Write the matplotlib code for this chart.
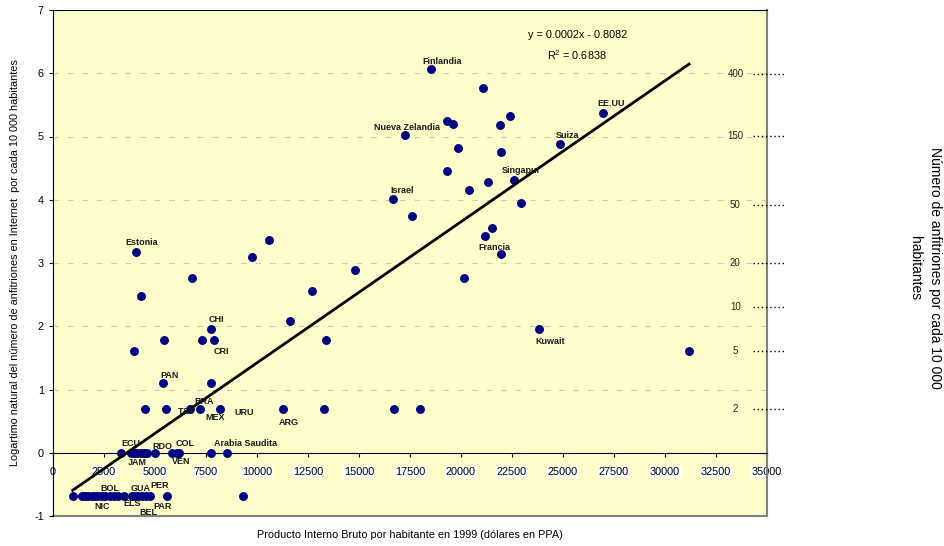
import numpy as np
import matplotlib
matplotlib.use('Agg')
import matplotlib.pyplot as plt

plt.rcParams['font.family'] = ['Liberation Sans', 'DejaVu Sans']
plt.rcParams['axes.unicode_minus'] = False

# PIB por habitante (x) y logaritmo natural de anfitriones (y)
gdp = [965, 1405, 1570, 1730, 1900, 2060, 2220, 2390, 2550, 2800, 2990, 3200, 3480,
       3860, 4020, 4180, 4350, 4560, 4750, 5570, 9330,
       3330, 3810, 3980, 4140, 4300, 4470, 4630, 4990, 5850, 6060, 6190, 7750, 8510,
       4510, 5520, 6720, 7210, 8190, 11260, 13280, 16720, 17990,
       5390, 7750, 3970, 5440, 7300, 7900, 7740, 11620, 13380, 23820, 31180,
       4050, 10590, 9740, 6800, 4330, 14790, 12680,
       18510, 21060, 19300, 19630, 22420, 21930, 17270, 19840, 21960, 26980, 24850,
       19300, 22600, 21310, 20410, 16680, 22930, 17580, 21540, 21160, 21950, 20160]
log_hosts = [-0.69] * 21 + [0.0] * 13 + [0.69] * 9 + \
    [1.10, 1.10, 1.61, 1.79, 1.79, 1.79, 1.95, 2.08, 1.79, 1.95, 1.61,
     3.18, 3.37, 3.09, 2.77, 2.48, 2.89, 2.56,
     6.06, 5.76, 5.24, 5.19, 5.32, 5.18, 5.03, 4.82, 4.75, 5.37, 4.88,
     4.45, 4.32, 4.28, 4.16, 4.01, 3.95, 3.74, 3.56, 3.43, 3.14, 2.77]

# etiquetas: nombre, punto (x, y), desplazamiento en pixeles
label_names = ['Finlandia', 'Nueva Zelandia', 'Israel', 'EE.UU', 'Suiza', 'Singapur',
               'Francia', 'Estonia', 'Kuwait', 'CHI', 'CRI', 'PAN', 'BRA', 'T&T', 'MEX',
               'URU', 'ARG', 'ECU', 'JAM', 'RDO', 'COL', 'VEN', 'Arabia Saudita',
               'BOL', 'NIC', 'ELS', 'GUA', 'PER', 'BEL', 'PAR']
label_x = [18510, 17270, 16680, 26980, 24850, 22600, 21950, 4050, 23820, 7740, 7900,
           5390, 7210, 6720, 8190, 8190, 11260, 3810, 4140, 4990, 6190, 6060, 8510,
           2800, 2390, 3860, 4350, 5570, 4750, 5570]
label_y = [6.06, 5.03, 4.01, 5.37, 4.88, 4.32, 3.14, 3.18, 1.95, 1.95, 1.79, 1.10,
           0.69, 0.69, 0.69, 0.69, 0.69, 0, 0, 0, 0, 0, 0,
           -0.69, -0.69, -0.69, -0.69, -0.69, -0.69, -0.69]
label_off = [(12, 8), (2, 7), (9, 9), (8, 10), (8, 9), (7, 9), (-6, 7), (6, 9), (11, -12),
             (5, 10), (7, -12), (7, 8), (4, 8), (-3, -2), (-5, -8), (24, -3), (6, -13),
             (0, 9), (0, -10), (8, 6), (6, 9), (5, -9), (19, 9),
             (0, 8), (0, -10), (0, -7), (-1, 8), (-7, 11), (-2, -16), (-4, -10)]

# linea de tendencia
trend_slope = 0.000223
trend_intercept = -0.8082
eq_text = 'y = 0.0002x - 0.8082'
r2_text = '$\\mathregular{R^2}$ = 0.6838'

# escala derecha: anfitriones por cada 10 000 habitantes
right_vals = [400, 150, 50, 20, 10, 5, 2]

fig = plt.figure(figsize=(9.45, 5.46), dpi=100)
ax = fig.add_axes([53 / 945, 1 - 516 / 546, 714 / 945, 506 / 546])
ax.set_facecolor('#FFFFCC')
ax.set_xlim(0, 35000)
ax.set_ylim(-1, 7)

for g in range(1, 7):
    ax.axhline(g, color='#C8C8C8', lw=0.8, ls=(0, (5, 8)), zorder=1)
ax.axhline(-1, color='#808080', lw=1.5, zorder=1, clip_on=False)

ax.plot(gdp, log_hosts, 'o', color='#000080', ms=5.4, zorder=3, clip_on=False)

tx = np.array([min(gdp), max(gdp)])
ax.plot(tx, trend_slope * tx + trend_intercept, color='black', lw=2, zorder=4)

for name, x, y, off in zip(label_names, label_x, label_y, label_off):
    ax.annotate(name, (x, y), xytext=off, textcoords='offset pixels', ha='center',
                va='center', fontsize=6.5, fontweight='bold', color='#1a1a1a', zorder=5)

ax.text(25700, 6.60, eq_text, ha='center', va='center', fontsize=7.8)
ax.text(25700, 6.29, r2_text, ha='center', va='center', fontsize=7.8)

for v in right_vals:
    ax.text(33450, np.log(v), str(v), ha='center', va='center', fontsize=7, color='#222222')
    ax.plot([34300, 35950], [np.log(v)] * 2, color='black', lw=1, ls=(0, (1, 2)),
            clip_on=False, zorder=5)

ax.spines['bottom'].set_position(('data', 0))
ax.spines['top'].set_color('black')
ax.spines['right'].set_color('#808080')
ax.spines['right'].set_linewidth(1.5)
ax.set_xticks(np.arange(0, 35001, 2500))
ax.set_yticks(np.arange(-1, 8, 1))
ax.tick_params(labelsize=7.8, length=3, direction='out')
ax.tick_params(axis='x', pad=7)
for lbl in ax.get_xticklabels():
    lbl.set_bbox(dict(facecolor='white', edgecolor='none', pad=0.6))

fig.text(0.5 * (53 + 767) / 945, 1 - 535 / 546,
         'Producto Interno Bruto por habitante en 1999 (dólares en PPA)',
         ha='center', va='center', fontsize=7.8)
fig.text(15 / 945, 1 - 263 / 546,
         'Logartimo natural del número de anfitriones en Internet  por cada 10 000 habitantes',
         rotation=90, ha='center', va='center', fontsize=7.8)
fig.text(925 / 945, 1 - 268 / 546, 'Número de anfitriones por cada 10 000\nhabitantes',
         rotation=-90, ha='center', va='center', fontsize=10, linespacing=1.5)

fig.savefig('out.png', dpi=100)
